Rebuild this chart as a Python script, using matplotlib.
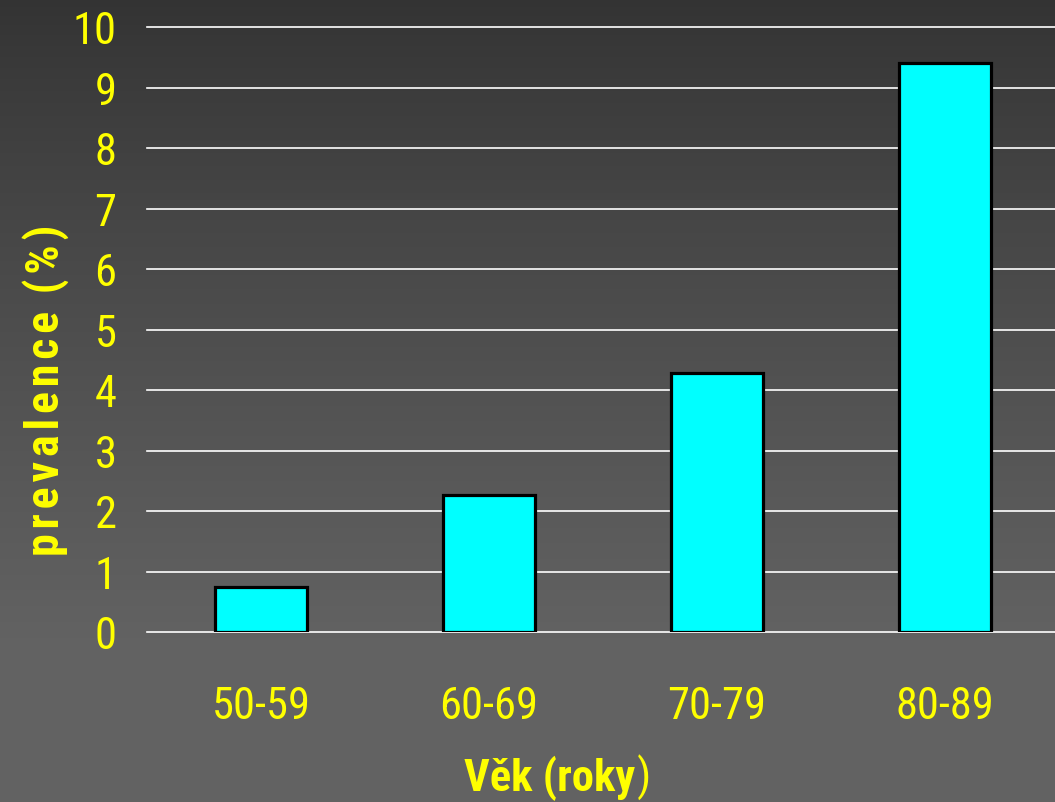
import numpy as np
import matplotlib
matplotlib.use("Agg")
import matplotlib.pyplot as plt

# Data
age_groups = ["50-59", "60-69", "70-79", "80-89"]
prevalence = [0.74, 2.26, 4.28, 9.4]
y_ticks = list(range(0, 11))

YELLOW = "#FFFF00"
W, H = 1055, 803
NARROW = ["Roboto Condensed", "Liberation Sans", "DejaVu Sans"]

fig = plt.figure(figsize=(W / 100, H / 100), dpi=100)

# Vertical grey gradient background
bg = fig.add_axes([0, 0, 1, 1], zorder=-10)
rows = np.linspace(0, 1, 400)
shade = 0.2 + 0.185 * np.clip(rows / 0.8, 0, 1) ** 0.85
grad = np.repeat(shade[:, None], 2, axis=1)
bg.imshow(np.dstack([grad, grad, grad]), aspect="auto", extent=[0, 1, 1, 0],
          interpolation="bilinear")
bg.set_xlim(0, 1)
bg.set_ylim(1, 0)
bg.axis("off")

# Plot area
left, right, bottom, top = 147, 1059, 633, 28
ax = fig.add_axes([left / W, (H - bottom) / H, (right - left) / W, (bottom - top) / H])
ax.patch.set_alpha(0)
x = np.arange(len(age_groups))
ax.bar(x, prevalence, width=0.40, color="#00FFFF", edgecolor="black",
       linewidth=2.3, zorder=3)
ax.set_xlim(-0.5, 3.5)
ax.set_ylim(0, 10)
ax.set_yticks(y_ticks)
ax.set_xticks(x)
ax.set_xticklabels(age_groups)
for yv in y_ticks:
    ax.axhline(yv, color="white", linewidth=1.2, zorder=1, clip_on=False)
for s in ax.spines.values():
    s.set_visible(False)
ax.tick_params(axis="both", length=0, colors=YELLOW, labelsize=32)
ax.tick_params(axis="y", pad=22)
ax.tick_params(axis="x", pad=38)
for lab in ax.get_xticklabels() + ax.get_yticklabels():
    lab.set_fontfamily(NARROW)
    lab.set_color(YELLOW)

# Axis titles (letter-spaced y title)
ylabel = "\u200a".join("prevalence") + "\u2009\u2009" + "\u200a".join("(%)")
fig.text(46 / W, 1 - 390 / H, ylabel, rotation=90,
         ha="center", va="center", color=YELLOW, fontsize=33,
         fontweight="bold", fontfamily=NARROW)

xt = fig.text(464 / W, 1 - 791 / H, "Věk (roky", ha="left", va="baseline",
              color=YELLOW, fontsize=32, fontweight="bold", fontfamily=NARROW)
fig.canvas.draw()
bb = xt.get_window_extent(renderer=fig.canvas.get_renderer())
fig.text(bb.x1 / W + 0.001, 1 - 791 / H, ")", ha="left", va="baseline",
         color=YELLOW, fontsize=32, fontfamily=NARROW)

fig.savefig("out.png", dpi=100)
